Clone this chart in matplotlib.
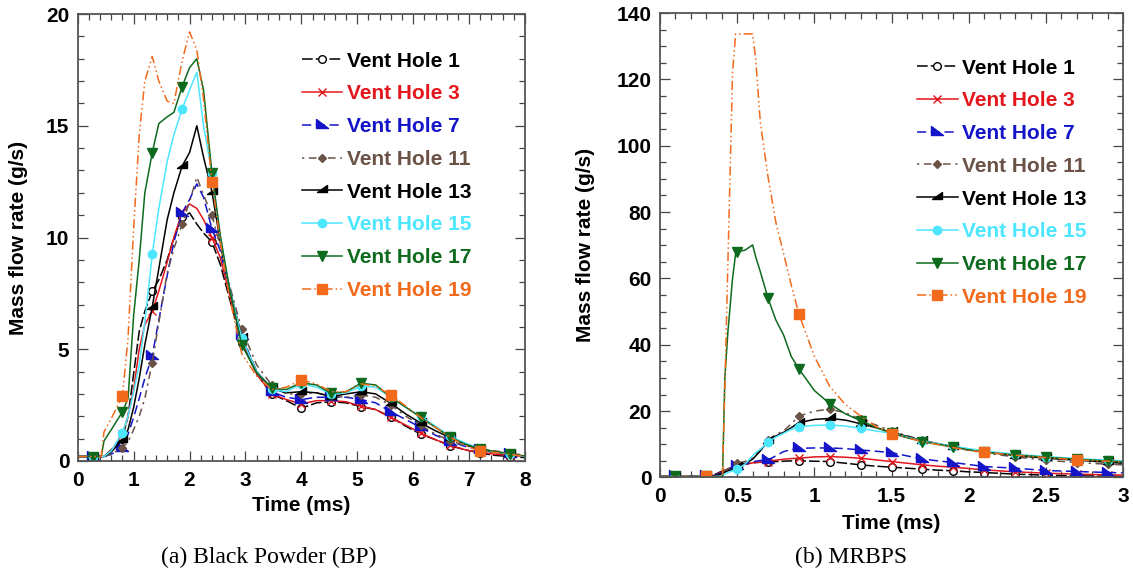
import numpy as np
import matplotlib
matplotlib.use('Agg')
import matplotlib.pyplot as plt
from matplotlib.path import Path
from matplotlib.ticker import MultipleLocator

plt.rcParams['font.family'] = ['Liberation Sans', 'DejaVu Sans']

# ---------------- data: (a) Black Powder ----------------
bp_time = [0, 0.267, 0.42, 0.47, 0.6, 0.8, 0.9, 1.0, 1.1, 1.2,
           1.333, 1.45, 1.6, 1.72, 1.867, 2.0, 2.13, 2.25, 2.4, 2.55,
           2.7, 2.933, 3.2, 3.467, 3.73, 4.0, 4.27, 4.533, 4.8, 5.067,
           5.33, 5.6, 5.87, 6.133, 6.4, 6.667, 6.93, 7.2, 7.467, 7.733, 8.0]
bp_vh1 = [0.2, 0.2, 0.2, 0.2, 0.5, 1.0, 2.0, 3.9, 5.8, 6.7,
          7.6, 8.1, 9.0, 10.0, 10.9, 11.1, 10.6, 10.2, 9.8, 8.8,
          7.4, 5.3, 3.9, 3.0, 2.7, 2.36, 2.6, 2.65, 2.6, 2.43,
          2.3, 1.96, 1.55, 1.2, 0.95, 0.68, 0.5, 0.35, 0.25, 0.2, 0.15]
bp_vh3 = [0.2, 0.2, 0.2, 0.2, 0.45, 1.2, 2.0, 3.2, 5.0, 6.1,
          6.7, 7.6, 8.9, 10.0, 11.15, 11.5, 11.3, 10.8, 10.0, 9.1,
          7.6, 5.4, 3.9, 3.0, 2.75, 2.55, 2.7, 2.7, 2.65, 2.45,
          2.3, 1.95, 1.6, 1.25, 0.95, 0.7, 0.5, 0.38, 0.3, 0.25, 0.2]
bp_vh7 = [0.2, 0.2, 0.2, 0.2, 0.3, 0.6, 1.2, 1.95, 2.8, 3.7,
          4.7, 6.3, 8.3, 9.8, 11.1, 11.7, 12.4, 11.8, 10.4, 9.4,
          7.8, 5.6, 4.0, 3.1, 2.85, 2.75, 2.85, 2.85, 2.85, 2.75,
          2.6, 2.2, 1.85, 1.5, 1.15, 0.87, 0.65, 0.5, 0.38, 0.3, 0.22]
bp_vh11 = [0.2, 0.2, 0.2, 0.2, 0.3, 0.6, 0.85, 1.4, 2.0, 2.8,
           4.4, 6.2, 8.4, 9.5, 10.6, 11.6, 12.7, 11.9, 11.0, 9.6,
           8.0, 5.9, 4.3, 3.4, 3.0, 3.0, 3.05, 2.9, 2.85, 2.95,
           2.85, 2.5, 2.0, 1.6, 1.2, 0.9, 0.68, 0.55, 0.45, 0.35, 0.25]
bp_vh13 = [0.2, 0.2, 0.2, 0.2, 0.4, 0.95, 1.4, 2.4, 3.7, 5.2,
           6.9, 8.6, 10.8, 12.0, 13.2, 13.8, 15.0, 13.6, 12.05, 9.8,
           7.9, 5.5, 4.0, 3.25, 3.05, 3.1, 3.05, 2.88, 3.0, 3.1,
           3.0, 2.58, 2.1, 1.7, 1.35, 1.03, 0.75, 0.5, 0.38, 0.3, 0.2]
bp_vh15 = [0.2, 0.2, 0.2, 0.2, 0.45, 1.27, 2.0, 3.1, 4.3, 6.2,
           9.25, 11.3, 13.4, 14.6, 15.75, 16.6, 17.4, 15.0, 12.9, 10.0,
           7.9, 5.5, 4.0, 3.2, 3.1, 3.45, 3.3, 3.0, 3.05, 3.35,
           3.3, 2.85, 2.4, 2.0, 1.55, 1.1, 0.8, 0.55, 0.4, 0.3, 0.2]
bp_vh17 = [0.2, 0.2, 0.2, 0.9, 1.4, 2.2, 2.8, 6.5, 9.0, 12.0,
           13.8, 15.1, 15.4, 15.6, 16.75, 17.6, 18.0, 16.6, 12.9, 10.1,
           7.9, 5.2, 3.95, 3.25, 3.2, 3.5, 3.4, 3.03, 3.1, 3.48,
           3.4, 2.85, 2.4, 1.95, 1.5, 1.06, 0.75, 0.55, 0.42, 0.33, 0.22]
bp_vh19 = [0.2, 0.2, 0.2, 1.3, 1.9, 2.9, 5.5, 10.4, 14.6, 17.0,
           18.1, 17.0, 16.1, 16.0, 17.9, 19.2, 18.4, 16.2, 12.5, 9.8,
           7.5, 4.8, 3.8, 3.2, 3.3, 3.63, 3.45, 3.1, 3.1, 3.45,
           3.35, 2.95, 2.45, 1.95, 1.5, 1.05, 0.7, 0.43, 0.38, 0.3, 0.2]
bp_mark_t = [0.267, 0.8, 1.333, 1.867, 2.4, 2.933, 3.467, 4.0, 4.533,
             5.067, 5.6, 6.133, 6.667, 7.2, 7.733]
bp_mark_t19 = [0.8, 2.4, 4.0, 5.6, 7.2]

# ---------------- data: (b) MRBPS ----------------
mr_time = [0, 0.1, 0.3, 0.36, 0.405, 0.42, 0.44, 0.47, 0.49, 0.5,
           0.55, 0.6, 0.62, 0.65, 0.7, 0.75, 0.8, 0.85, 0.9, 1.0,
           1.1, 1.2, 1.3, 1.4, 1.5, 1.6, 1.7, 1.8, 1.9, 2.0,
           2.1, 2.3, 2.5, 2.7, 2.9, 3.0]
mr_vh1 = [0.3, 0.3, 0.3, 1.0, 2.0, 2.3, 2.6, 3.0, 3.3, 3.5,
          4.0, 4.4, 4.5, 4.6, 4.7, 4.8, 4.9, 5.0, 5.0, 4.9,
          4.8, 4.3, 3.8, 3.4, 3.1, 2.8, 2.5, 2.2, 2.0, 1.7,
          1.5, 1.0, 0.7, 0.5, 0.4, 0.35]
mr_vh3 = [0.3, 0.3, 0.3, 0.8, 1.8, 2.2, 2.6, 3.0, 3.3, 3.5,
          4.0, 4.4, 4.5, 4.6, 4.8, 5.2, 5.5, 5.7, 5.8, 6.2,
          6.3, 6.1, 5.8, 5.3, 4.8, 4.3, 3.8, 3.4, 3.1, 2.7,
          2.3, 1.7, 1.3, 1.0, 0.8, 0.7]
mr_vh7 = [0.3, 0.3, 0.3, 0.8, 1.5, 2.0, 2.5, 3.0, 3.3, 3.5,
          4.0, 4.6, 4.9, 5.1, 5.3, 6.5, 7.8, 8.4, 8.8, 8.9,
          8.9, 8.7, 8.3, 7.9, 7.5, 6.5, 5.6, 5.0, 4.5, 3.9,
          3.3, 2.8, 2.1, 1.8, 1.5, 1.4]
mr_vh11 = [0.3, 0.3, 0.3, 0.5, 1.3, 2.0, 2.6, 3.2, 3.6, 4.3,
           4.8, 6.0, 7.0, 8.5, 11.3, 13.0, 14.0, 16.2, 18.5, 20.0,
           20.6, 19.5, 17.5, 15.8, 14.0, 12.6, 11.2, 10.2, 9.1, 8.2,
           7.4, 6.2, 5.2, 4.5, 4.0, 3.8]
mr_vh13 = [0.3, 0.3, 0.3, 0.5, 1.2, 1.6, 2.0, 2.5, 3.0, 3.3,
           4.2, 5.5, 6.5, 8.0, 11.0, 12.5, 13.6, 15.0, 16.5, 17.5,
           17.8, 17.3, 16.2, 15.0, 13.6, 12.4, 11.1, 10.2, 9.3, 8.5,
           7.8, 6.6, 5.8, 5.2, 4.6, 4.3]
mr_vh15 = [0.3, 0.3, 0.3, 0.3, 0.5, 1.0, 1.5, 2.0, 2.3, 2.5,
           4.0, 6.5, 7.5, 8.5, 10.6, 12.2, 13.3, 14.5, 15.3, 15.7,
           15.8, 15.5, 14.8, 14.0, 13.3, 12.2, 11.0, 10.2, 9.4, 8.7,
           8.0, 7.0, 6.3, 5.7, 5.2, 5.0]
mr_vh17 = [0.3, 0.3, 0.3, 0.3, 0.3, 30.0, 44.0, 60.0, 67.5, 68.1,
           68.5, 70.1, 66.5, 62.0, 54.0, 47.5, 43.0, 36.5, 32.7, 26.2,
           22.2, 19.2, 17.1, 15.1, 13.3, 12.0, 10.8, 10.0, 9.2, 8.3,
           7.6, 6.8, 6.1, 5.5, 5.0, 4.7]
mr_vh19 = [0.3, 0.3, 0.3, 0.3, 0.3, 27.0, 65.0, 122.0, 133.7, 133.7,
           133.7, 133.7, 126.0, 107.0, 90.5, 77.0, 67.6, 58.0, 49.2, 36.5,
           27.4, 22.0, 18.5, 15.3, 13.2, 12.0, 10.8, 9.9, 9.0, 8.2,
           7.6, 6.7, 6.0, 5.3, 4.9, 4.7]
mr_mark_t = [0.1, 0.3, 0.5, 0.7, 0.9, 1.1, 1.3, 1.5, 1.7, 1.9,
             2.1, 2.3, 2.5, 2.7, 2.9]
mr_mark_t19 = [0.3, 0.9, 1.5, 2.1, 2.7]

series_labels = ['Vent Hole 1', 'Vent Hole 3', 'Vent Hole 7', 'Vent Hole 11',
                 'Vent Hole 13', 'Vent Hole 15', 'Vent Hole 17', 'Vent Hole 19']
series_colors = ['#000000', '#E3161C', '#1414C8', '#6B5247',
                 '#000000', '#4DE6FF', '#0E6B1E', '#F26A1B']

bp_xticks = [0, 1, 2, 3, 4, 5, 6, 7, 8]
bp_xticklabels = ['0', '1', '2', '3', '4', '5', '6', '7', '8']
bp_yticks = [0, 5, 10, 15, 20]
bp_yticklabels = ['0', '5', '10', '15', '20']
mr_xticks = [0, 0.5, 1, 1.5, 2, 2.5, 3]
mr_xticklabels = ['0', '0.5', '1', '1.5', '2', '2.5', '3']
mr_yticks = [0, 20, 40, 60, 80, 100, 120, 140]
mr_yticklabels = ['0', '20', '40', '60', '80', '100', '120', '140']

# ---------------- styles ----------------
tri7 = Path([(-1, 1), (-1, -0.5), (1, -0.5), (-1, 1)],
            [Path.MOVETO, Path.LINETO, Path.LINETO, Path.CLOSEPOLY])
tri13 = Path([(1, 1), (1, -0.5), (-1, -0.5), (1, 1)],
             [Path.MOVETO, Path.LINETO, Path.LINETO, Path.CLOSEPOLY])
styles = [
    dict(ls=(0, (7, 2)), marker='o', mfc='white', ms=5.5, mew=1.0),
    dict(ls='-', marker='x', ms=6, mew=1.0),
    dict(ls=(0, (6, 3)), marker=tri7, ms=8),
    dict(ls=(0, (1.5, 3, 5, 3)), marker='D', ms=4.5),
    dict(ls='-', marker=tri13, ms=7),
    dict(ls='-', marker='o', ms=6),
    dict(ls='-', marker='v', ms=6.5),
    dict(ls=(0, (6, 2, 1, 2, 1, 2)), marker='s', ms=6.5),
]

fig = plt.figure(figsize=(11.33, 5.73), dpi=100)
ax1 = fig.add_axes([0.0686, 0.1955, 0.3948, 0.7800])
ax2 = fig.add_axes([0.5825, 0.1667, 0.4089, 0.8106])


def draw(ax, t, ys, mt, mt19, xlim, ylim, xt, xtl, yt, ytl, xminor, yminor, leg_anchor):
    t = np.asarray(t)
    for i, (y, lab, col, st) in enumerate(zip(ys, series_labels, series_colors, styles)):
        marks = mt19 if i == 7 else mt
        mask = np.isin(np.round(t, 3), np.round(marks, 3))
        st = dict(st)
        mfc = st.pop('mfc', col)
        ax.plot(t, y, color=col, lw=1.1, markevery=list(np.where(mask)[0]),
                mfc=mfc, mec=col, label=lab, **st)
    ax.set_xlim(*xlim)
    ax.set_ylim(*ylim)
    ax.set_xticks(xt)
    ax.set_xticklabels(xtl, fontweight='bold', fontsize=15)
    ax.set_yticks(yt)
    ax.set_yticklabels(ytl, fontweight='bold', fontsize=15)
    ax.xaxis.set_minor_locator(MultipleLocator(xminor))
    ax.yaxis.set_minor_locator(MultipleLocator(yminor))
    ax.tick_params(which='both', direction='in', top=True, right=True, color='#444444', width=0.9)
    ax.tick_params(which='major', length=7)
    ax.tick_params(which='minor', length=4)
    ax.tick_params(axis='x', pad=7)
    ax.tick_params(axis='y', pad=6)
    for sp in ax.spines.values():
        sp.set_color('#555555')
        sp.set_linewidth(1.3)
    ax.set_xlabel('Time (ms)', fontweight='bold', fontsize=15)
    ax.set_ylabel('Mass flow rate (g/s)', fontweight='bold', fontsize=15)
    ax.xaxis.set_label_coords(0.5, -0.079)
    leg = ax.legend(loc='upper left', bbox_to_anchor=leg_anchor, frameon=False,
                    prop=dict(weight='bold', size=15), handlelength=1.95,
                    handletextpad=0.2, labelspacing=0.66, borderpad=0,
                    borderaxespad=0, numpoints=1)
    for txt, col in zip(leg.get_texts(), series_colors):
        txt.set_color(col)


draw(ax1, bp_time, [bp_vh1, bp_vh3, bp_vh7, bp_vh11, bp_vh13, bp_vh15, bp_vh17, bp_vh19],
     bp_mark_t, bp_mark_t19, (0, 8), (0, 20), bp_xticks, bp_xticklabels,
     bp_yticks, bp_yticklabels, 0.2, 1, (0.501, 0.916))
ax1.yaxis.set_label_coords(-0.111, 0.5)

draw(ax2, mr_time, [mr_vh1, mr_vh3, mr_vh7, mr_vh11, mr_vh13, mr_vh15, mr_vh17, mr_vh19],
     mr_mark_t, mr_mark_t19, (0, 3), (0, 140), mr_xticks, mr_xticklabels,
     mr_yticks, mr_yticklabels, 0.1, 5, (0.555, 0.902))
ax2.yaxis.set_label_coords(-0.14, 0.5)

fig.text(269 / 1133, 1 - 557 / 573, '(a) Black Powder (BP)', ha='center', va='center',
         family=['Liberation Serif', 'DejaVu Serif'], fontsize=17)
fig.text(851 / 1133, 1 - 557 / 573, '(b) MRBPS', ha='center', va='center',
         family=['Liberation Serif', 'DejaVu Serif'], fontsize=17)

fig.savefig('out.png', dpi=100)
